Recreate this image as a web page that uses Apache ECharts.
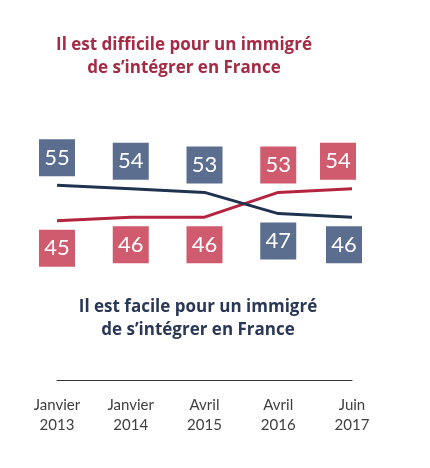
<!DOCTYPE html>
<html>
<head>
<meta charset="utf-8">
<script src="https://cdn.jsdelivr.net/npm/echarts@6/dist/echarts.min.js"></script>
<style>
  html, body { margin: 0; padding: 0; background: #fff; }
  #chart { width: 430px; height: 468px; }
</style>
</head>
<body>
<div id="chart"></div>
<script>
var categories = ['Janvier\n2013', 'Janvier\n2014', 'Avril\n2015', 'Avril\n2016', 'Juin\n2017'];
var difficile = [45, 46, 46, 53, 54];
var facile = [55, 54, 53, 47, 46];
var titleDifficile = 'Il est difficile pour un immigré\nde s\u2019intégrer en France';
var titleFacile = 'Il est facile pour un immigré\nde s\u2019intégrer en France';

var chart = echarts.init(document.getElementById('chart'));

// label box sits above the line that is higher, below the other
function buildData(values, other, boxColor, lastShift) {
  return values.map(function (v, i) {
    var up = v > other[i];
    return {
      value: v,
      label: {
        position: up ? 'top' : 'bottom',
        distance: 8,
        backgroundColor: boxColor,
        offset: [i === values.length - 1 ? lastShift : 0, 0]
      }
    };
  });
}

var boxLabel = {
  show: true,
  color: '#fff',
  fontFamily: 'Lato',
  fontSize: 22,
  width: 36,
  height: 37,
  lineHeight: 37,
  align: 'center'
};

chart.setOption({
  animation: false,
  title: [
    {
      text: titleDifficile,
      left: 179, top: 29,
      textAlign: 'center',
      textStyle: { color: '#a52a45', fontFamily: 'Open Sans', fontWeight: 'bold', fontSize: 17, lineHeight: 23 }
    },
    {
      text: titleFacile,
      left: 193, top: 291,
      textAlign: 'center',
      textStyle: { color: '#2a3856', fontFamily: 'Open Sans', fontWeight: 'bold', fontSize: 17, lineHeight: 23 }
    }
  ],
  grid: { left: 57, right: 78, top: 26, bottom: 88 },
  xAxis: {
    type: 'category',
    data: categories,
    boundaryGap: false,
    axisLine: { lineStyle: { color: '#333', width: 1 } },
    axisTick: { show: false },
    axisLabel: { color: '#404040', fontFamily: 'Lato', fontSize: 15, lineHeight: 20, margin: 15, interval: 0 }
  },
  yAxis: {
    type: 'value',
    min: 0, max: 100,
    show: false,
    splitLine: { show: false }
  },
  series: [
    {
      name: 'facile',
      type: 'line',
      data: buildData(facile, difficile, '#5b6e8f', -8),
      symbol: 'circle',
      symbolSize: 2,
      itemStyle: { color: 'rgba(0,0,0,0)' },
      lineStyle: { color: '#1f3350', width: 3 },
      label: boxLabel,
      z: 3
    },
    {
      name: 'difficile',
      type: 'line',
      data: buildData(difficile, facile, '#d05a6e', -14),
      symbol: 'circle',
      symbolSize: 2,
      itemStyle: { color: 'rgba(0,0,0,0)' },
      lineStyle: { color: '#b5243e', width: 3 },
      label: boxLabel,
      z: 2
    }
  ]
});
</script>
</body>
</html>
